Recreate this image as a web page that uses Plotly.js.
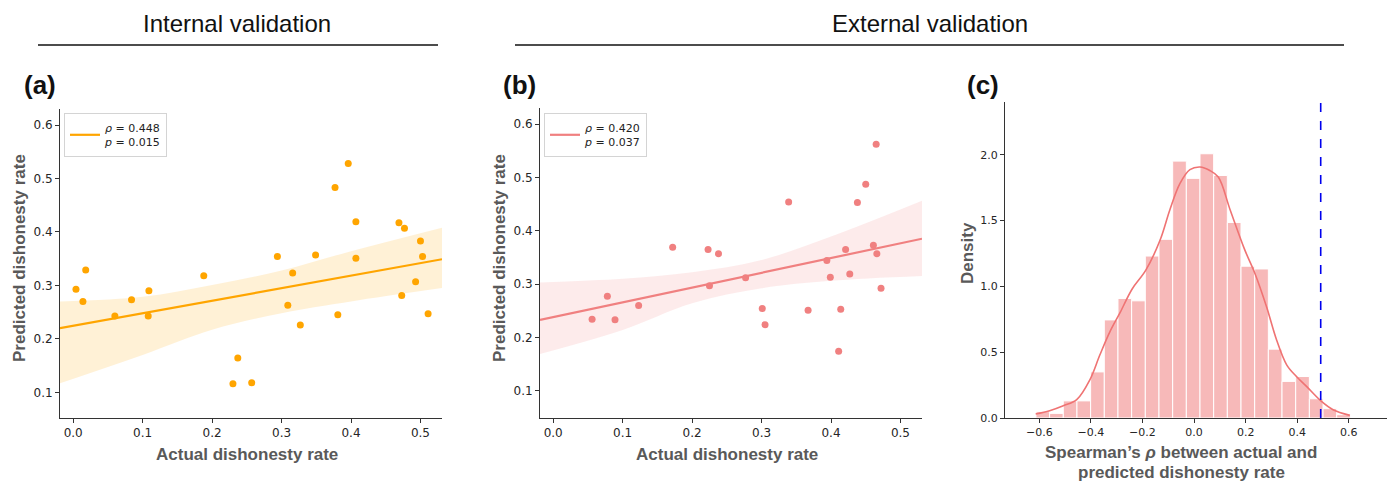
<!DOCTYPE html>
<html><head><meta charset="utf-8">
<script src="https://cdn.plot.ly/plotly-3.0.1.min.js"></script>
<style>html,body{margin:0;padding:0;background:#fff}#chart{width:1390px;height:482px}</style>
</head><body><div id="chart"></div>
<script>
// ---------- DATA ----------
const internalActual = [0.004,0.014,0.018,0.060,0.084,0.109,0.108,0.188,0.230,0.237,0.257,0.294,0.309,0.316,0.327,0.349,0.377,0.381,0.396,0.407,0.407,0.469,0.477,0.473,0.493,0.500,0.503,0.511];
const internalPredicted = [0.293,0.270,0.329,0.243,0.273,0.290,0.243,0.318,0.116,0.164,0.118,0.354,0.263,0.323,0.226,0.357,0.483,0.245,0.528,0.419,0.351,0.417,0.407,0.281,0.307,0.383,0.354,0.247];
const externalActual = [0.056,0.078,0.089,0.123,0.172,0.223,0.238,0.225,0.277,0.301,0.305,0.339,0.367,0.394,0.399,0.411,0.414,0.421,0.427,0.438,0.450,0.465,0.461,0.466,0.472];
const externalPredicted = [0.234,0.277,0.233,0.260,0.369,0.365,0.357,0.297,0.312,0.254,0.224,0.454,0.251,0.344,0.313,0.174,0.253,0.365,0.319,0.453,0.487,0.562,0.373,0.357,0.292];
const internalStats = {rho:'0.448', p:'0.015'};
const externalStats = {rho:'0.420', p:'0.037'};

// regression fit and 95% CI band
const fitX = [-0.019, 0.1, 0.2, 0.3, 0.4, 0.531];
const internalFit = [0.220, 0.248, 0.271, 0.295, 0.318, 0.349];
const internalCiLow = [0.117, 0.170, 0.217, 0.248, 0.270, 0.295];
const internalCiHigh = [0.270, 0.279, 0.301, 0.328, 0.364, 0.408];
const externalFit = [0.233, 0.266, 0.294, 0.321, 0.349, 0.385];
const externalCiLow = [0.169, 0.214, 0.264, 0.292, 0.306, 0.315];
const externalCiHigh = [0.303, 0.310, 0.322, 0.345, 0.389, 0.456];

const nullBinStart = -0.613;
const nullBinWidth = 0.053;
const nullRhoDensity = [0.048,0.035,0.13,0.13,0.35,0.745,0.908,0.89,1.23,1.357,1.951,1.82,2.007,1.842,1.485,1.153,1.132,0.523,0.278,0.315,0.146,0.071,0.025];
const kdeX = [-0.614,-0.56,-0.507,-0.455,-0.404,-0.365,-0.326,-0.287,-0.24,-0.187,-0.132,-0.094,-0.055,-0.016,0.023,0.061,0.094,0.14,0.197,0.236,0.281,0.320,0.359,0.397,0.436,0.494,0.539,0.604];
const kdeY = [0.03,0.055,0.093,0.139,0.29,0.48,0.656,0.80,0.98,1.123,1.35,1.58,1.78,1.886,1.906,1.88,1.83,1.58,1.275,1.098,0.845,0.593,0.404,0.315,0.24,0.126,0.063,0.02];
const observedRho = 0.491;

// ---------- HELPERS ----------
const W = 1390, H = 482;
const px = v => v / W, py = v => 1 - v / H;

function scatterPanel(xs, ys, stats, fit, lo, hi, color, fill, xa, ya, leg) {
  return [
    {x:fitX, y:lo, xaxis:xa, yaxis:ya, mode:'lines', line:{width:0, shape:'spline'}, showlegend:false, hoverinfo:'skip'},
    {x:fitX, y:hi, xaxis:xa, yaxis:ya, mode:'lines', line:{width:0, shape:'spline'}, fill:'tonexty', fillcolor:fill, showlegend:false, hoverinfo:'skip'},
    {x:xs, y:ys, xaxis:xa, yaxis:ya, mode:'markers', marker:{color:color, size:7}, showlegend:false},
    {x:fitX, y:fit, xaxis:xa, yaxis:ya, mode:'lines', line:{color:color, width:2.2}, legend:leg,
     name:'<i>ρ</i> = ' + stats.rho + '<br><i>p</i> = ' + stats.p}
  ];
}

const xRange = [-0.019, 0.531];
const traces = [].concat(
  scatterPanel(internalActual, internalPredicted, internalStats, internalFit, internalCiLow, internalCiHigh, '#FFA500', 'rgba(255,165,0,0.16)', 'x', 'y', 'legend'),
  scatterPanel(externalActual, externalPredicted, externalStats, externalFit, externalCiLow, externalCiHigh, '#F08080', 'rgba(240,128,128,0.16)', 'x2', 'y2', 'legend2')
);

const binCenters = nullRhoDensity.map((_, i) => nullBinStart + nullBinWidth*(i+0.5));
traces.push({type:'bar', x:binCenters, y:nullRhoDensity, width:nullBinWidth, xaxis:'x3', yaxis:'y3',
  marker:{color:'rgba(240,128,128,0.55)', line:{color:'#ffffff', width:1}}, showlegend:false});
traces.push({x:kdeX, y:kdeY, xaxis:'x3', yaxis:'y3', mode:'lines', line:{color:'#EF7373', width:1.6, shape:'spline'}, showlegend:false});

// ---------- LAYOUT ----------
const tickFont = {family:'DejaVu Sans', size:12, color:'#262626'};
const baseAx = {showline:true, linecolor:'#333', linewidth:1, ticks:'outside', ticklen:4, tickcolor:'#333', tickwidth:1,
  showgrid:false, zeroline:false, tickfont:tickFont, fixedrange:true};
const ax = o => Object.assign({}, baseAx, o);

const titleFont = {family:'Liberation Sans', size:24, color:'#111'};
const labFont = {family:'Liberation Sans', size:26, color:'#111'};
const axTitleFont = {family:'Liberation Sans', size:17, color:'#595959'};

const legendBase = {xanchor:'left', yanchor:'top', bgcolor:'rgba(255,255,255,0.85)', bordercolor:'#d4d4d4', borderwidth:1,
  font:{family:'DejaVu Sans', size:11, color:'#222'}, itemwidth:30, tracegroupgap:0};

function ann(text, x, y, font, extra) {
  return Object.assign({text:text, x:px(x), y:py(y), xref:'paper', yref:'paper', xanchor:'center', yanchor:'middle',
    showarrow:false, font:font}, extra || {});
}

const layout = {
  width:W, height:H, margin:{l:0,r:0,t:0,b:0}, paper_bgcolor:'#fff', plot_bgcolor:'#fff',
  xaxis: ax({domain:[px(60),px(442)], range:xRange, anchor:'y', tickvals:[0,0.1,0.2,0.3,0.4,0.5], tickformat:'.1f'}),
  yaxis: ax({domain:[1-418/H, 1-109/H], range:[0.052,0.630], anchor:'x', tickvals:[0.1,0.2,0.3,0.4,0.5,0.6], tickformat:'.1f'}),
  xaxis2: ax({domain:[px(540),px(922)], range:xRange, anchor:'y2', tickvals:[0,0.1,0.2,0.3,0.4,0.5], tickformat:'.1f'}),
  yaxis2: ax({domain:[1-418/H, 1-108/H], range:[0.049,0.630], anchor:'x2', tickvals:[0.1,0.2,0.3,0.4,0.5,0.6], tickformat:'.1f'}),
  xaxis3: ax({domain:[px(1005),px(1387)], range:[-0.733,0.748], anchor:'y3', tickvals:[-0.6,-0.4,-0.2,0,0.2,0.4,0.6], tickformat:'.1f', tickfont:Object.assign({}, tickFont, {size:11})}),
  yaxis3: ax({domain:[1-418/H, 1-102/H], range:[0,2.40], anchor:'x3', tickvals:[0,0.5,1.0,1.5,2.0], tickformat:'.1f', tickfont:Object.assign({}, tickFont, {size:11})}),
  bargap:0,
  legend: Object.assign({x:px(64), y:py(113)}, legendBase),
  legend2: Object.assign({x:px(544), y:py(113)}, legendBase),
  shapes: [
    {type:'line', xref:'paper', yref:'paper', x0:px(38), x1:px(438), y0:py(45), y1:py(45), line:{color:'#111', width:1.5}},
    {type:'line', xref:'paper', yref:'paper', x0:px(515), x1:px(1344), y0:py(45), y1:py(45), line:{color:'#111', width:1.5}},
    {type:'line', xref:'x3', yref:'y3 domain', x0:observedRho, x1:observedRho, y0:0, y1:1, line:{color:'#0000EE', width:1.6, dash:'dash'}}
  ],
  annotations: [
    ann('Internal validation', 237, 23, titleFont),
    ann('External validation', 930, 23, titleFont),
    ann('<b>(a)</b>', 40, 85, labFont),
    ann('<b>(b)</b>', 519, 85, labFont),
    ann('<b>(c)</b>', 983, 85, labFont),
    ann('<b>Actual dishonesty rate</b>', 247, 454, axTitleFont),
    ann('<b>Actual dishonesty rate</b>', 727, 454, axTitleFont),
    ann('<b>Predicted dishonesty rate</b>', 19, 258, axTitleFont, {textangle:-90}),
    ann('<b>Predicted dishonesty rate</b>', 499, 258, axTitleFont, {textangle:-90}),
    ann('<b>Density</b>', 967, 253, axTitleFont, {textangle:-90}),
    ann('<b>Spearman’s <i>ρ</i> between actual and</b>', 1181, 452, axTitleFont),
    ann('<b>predicted dishonesty rate</b>', 1181, 472, axTitleFont)
  ]
};

Plotly.newPlot('chart', traces, layout, {staticPlot:true, displayModeBar:false});
</script>
</body></html>
